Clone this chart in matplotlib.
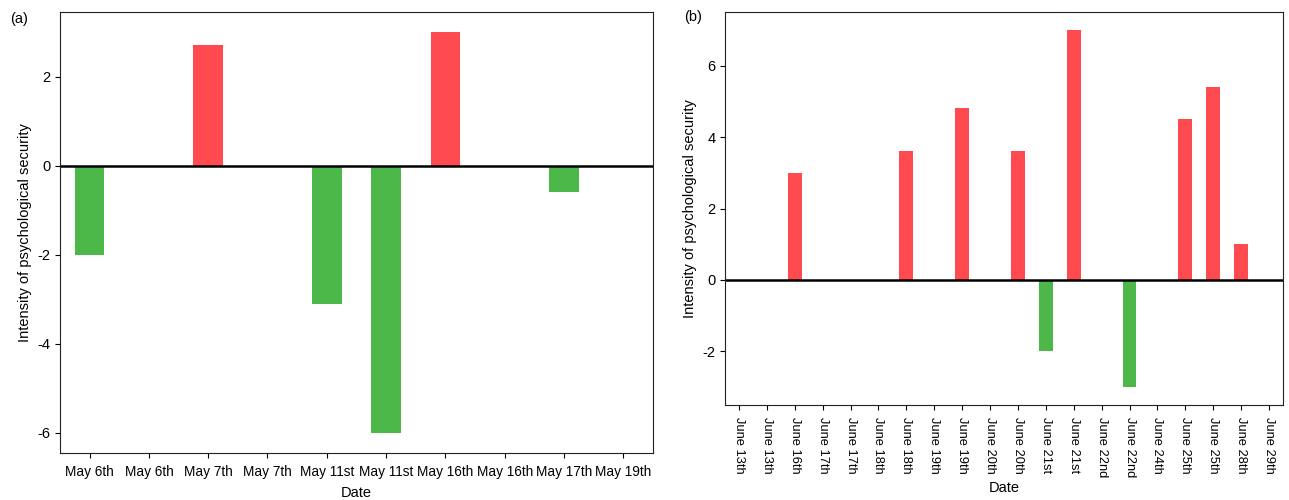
import matplotlib
matplotlib.use("Agg")
import matplotlib.pyplot as plt

plt.rcParams['font.family'] = ['Liberation Sans', 'DejaVu Sans']
plt.rcParams['axes.unicode_minus'] = False

may_labels = ["May 6th", "May 6th", "May 7th", "May 7th", "May 11st", "May 11st",
              "May 16th", "May 16th", "May 17th", "May 19th"]
may_values = [-2, 0, 2.7, 0, -3.1, -6, 3, 0, -0.6, 0]

june_labels = ["June 13th", "June 13th", "June 16th", "June 17th", "June 17th", "June 18th",
               "June 18th", "June 19th", "June 19th", "June 20th", "June 20th", "June 21st",
               "June 21st", "June 22nd", "June 22nd", "June 24th", "June 25th", "June 25th",
               "June 28th", "June 29th"]
june_values = [0, 0, 3, 0, 0, 0, 3.6, 0, 4.8, 0, 3.6, -2, 7, 0, -3, 0, 4.5, 5.4, 1, 0]

RED = "#FF4B4F"
GREEN = "#4CB84A"

fig = plt.figure(figsize=(12.89, 5.0), dpi=100)
ax1 = fig.add_axes([0.0465, 0.094, 0.460, 0.882])
ax2 = fig.add_axes([0.5625, 0.19, 0.4328, 0.786])

def draw(ax, labels, values, rot, tsize, pad):
    x = list(range(len(values)))
    colors = [RED if v > 0 else GREEN for v in values]
    ax.bar(x, values, width=0.5, color=colors)
    ax.axhline(0, color="black", linewidth=1.8)
    ax.set_xticks(x)
    ax.set_xticklabels(labels, rotation=rot, fontsize=tsize)
    ax.tick_params(axis='x', pad=5)
    ax.set_xlim(-0.5, len(values) - 0.5)
    ax.tick_params(axis='y', labelsize=10.5)
    ax.set_xlabel("Date", fontsize=10.5, labelpad=pad)
    ax.set_ylabel("Intensity of psychological security", fontsize=10.5)
    for s in ax.spines.values():
        s.set_color("#222222")

draw(ax1, may_labels, may_values, 0, 9.8, 5)
draw(ax2, june_labels, june_values, -90, 9.3, 3)

fig.text(0.008, 0.955, "(a)", fontsize=10.5)
fig.text(0.531, 0.958, "(b)", fontsize=10.5)

fig.savefig("out.png", dpi=100)
